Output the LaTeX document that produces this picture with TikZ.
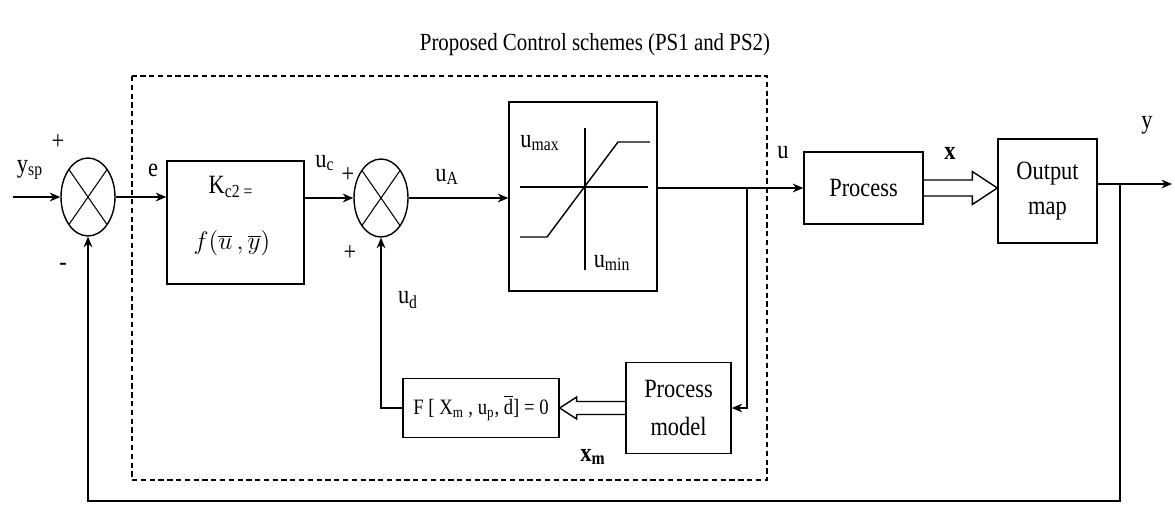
\documentclass[tikz,border=0pt]{standalone}
\usepackage{fontspec}
\setmainfont{Liberation Serif}[FakeStretch=0.85]
\usetikzlibrary{arrows.meta,calc,shapes.geometric}

\tikzset{
  blk/.style={draw, line width=0.8pt, inner sep=0pt},
  sumj/.style={draw, ellipse, line width=0.8pt, minimum width=1.08cm, minimum height=1.56cm, inner sep=0pt,
    path picture={\draw[line width=0.6pt] (path picture bounding box.north west) -- (path picture bounding box.south east)
      (path picture bounding box.south west) -- (path picture bounding box.north east);}},
  lbl/.style={inner sep=0pt, font=\fontsize{15}{17}\selectfont},
  wire/.style={line width=0.8pt},
  sig/.style={wire, -{Stealth[length=6pt,width=5pt]}},
}

% hollow double arrow: from, to, half gap, head length, half head width
\newcommand{\fatarrow}[5]{%
  \draw[wire, line join=miter] ($(#1)+(0,#3)$) -- ($(#2)!#4!(#1)+(0,#3)$) -- ($(#2)!#4!(#1)+(0,#5)$)
    -- (#2) -- ($(#2)!#4!(#1)+(0,-#5)$) -- ($(#2)!#4!(#1)+(0,-#3)$) -- ($(#1)+(0,-#3)$);}

\begin{document}
\begin{tikzpicture}[x=0.02cm, y=-0.02cm]
    \useasboundingbox (0,0) rectangle (1175,504);
    % Title
    \node[lbl, font=\fontsize{14}{16}\selectfont] (title) at (595,45) {Proposed Control schemes (PS1 and PS2)};
    % Controller frame
    \draw[line width=0.7pt, dash pattern=on 3pt off 2pt] (132,76) rectangle (767,480);
    % Blocks
    \node[sumj] (sum1) at (88,197) {};
    \node[blk, minimum width=2.74cm, minimum height=2.46cm] (kbox) at (235.5,222.5) {};
    \node[lbl] (kc) at (231,187) {K\textsubscript{c2 =}};
    \node[lbl] (kf) at (232,243) {$f(\overline{u}\,,\overline{y})$};
    \node[sumj] (sum2) at (381,198) {};
    \node[blk, minimum width=2.96cm, minimum height=3.78cm] (sat) at (583,196.5) {};
    \node[blk, lbl, minimum width=2.38cm, minimum height=1.44cm] (proc) at (863.5,188) {Process};
    \node[blk, lbl, align=center, minimum width=1.98cm, minimum height=2.08cm] (omap) at (1047.5,191) {Output\\[3pt]map};
    \node[blk, lbl, align=center, minimum width=2.10cm, minimum height=1.82cm] (pm) at (678.5,408) {Process\\[5pt]model};
    \node[blk, lbl, font=\fontsize{12.5}{15}\selectfont, minimum width=3.12cm, minimum height=1.18cm] (fbox) at (481,408) {F [ X\textsubscript{m} , u\textsubscript{p}, $\overline{\mbox{d}}$] = 0};
    % Saturation curve
    \draw[wire] (520,187) -- (648,187) (585,128) -- (585,270);
    \draw[wire] (520,237) -- (547,237) -- (618,142) -- (650,142);
    % Signals
    \coordinate (ysp) at (13,197);
    \coordinate (br1) at (747,188);
    \coordinate (br2) at (1120,184);
    \coordinate (yend) at (1172,184);
    \coordinate (fbr) at (1120,501);
    \draw[sig] (ysp) -- (sum1.west);
    \draw[sig] (sum1.east) -- (sum1.east -| kbox.west);
    \draw[sig] (kbox.east |- sum2) -- (sum2.west);
    \draw[sig] (sum2.east) -- (sum2.east -| sat.west);
    \draw[sig] (sat.east |- proc.west) -- (proc.west);
    \draw[sig] (br1) |- (pm.east);
    \draw[sig] (fbox.west) -| (sum2.south);
    \draw[sig] (omap.east |- yend) -- (yend);
    \draw[sig] (br2) -- (fbr) -| (sum1.south);
    \fatarrow{proc.east}{omap.west |- proc.east}{8}{0.5cm}{16.5}
    \fatarrow{pm.west}{fbox.east}{6.5}{0.34cm}{11}
    % Labels
    \node[lbl] (lysp) at (30,170) {y\textsubscript{sp}};
    \node[lbl] (lp1) at (58,142) {+};
    \node[lbl] (lm1) at (63,267) {-};
    \node[lbl] (le) at (153,170) {e};
    \node[lbl] (luc) at (325,163) {u\textsubscript{c}};
    \node[lbl] (lp2) at (348,175) {+};
    \node[lbl] (lp3) at (350,253) {+};
    \node[lbl] (lud) at (408,300) {u\textsubscript{d}};
    \node[lbl] (luA) at (447,177) {u\textsubscript{A}};
    \node[lbl] (lumax) at (540,143) {u\textsubscript{max}};
    \node[lbl] (lumin) at (612,263) {u\textsubscript{min}};
    \node[lbl] (lu) at (783,153) {u};
    \node[lbl] (lx) at (950,153) {\textbf{x}};
    \node[lbl] (ly) at (1147,125) {y};
    \node[lbl] (lxm) at (593,457) {\textbf{x\textsubscript{m}}};
\end{tikzpicture}
\end{document}
